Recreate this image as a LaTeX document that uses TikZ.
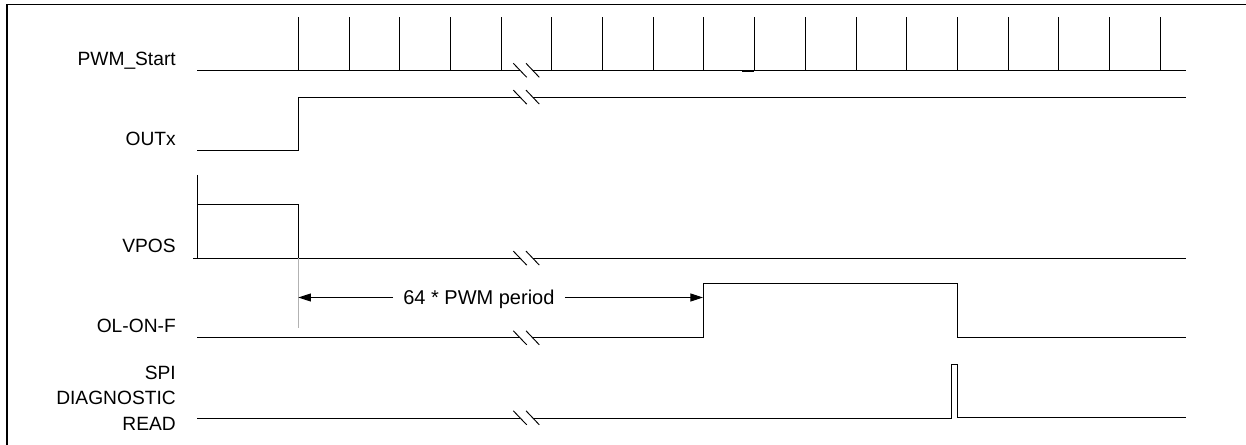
\documentclass[tikz,border=0pt]{standalone}
\usepackage{fontspec}
\setmainfont{Liberation Sans}
\usetikzlibrary{arrows.meta}
\begin{document}
\begin{tikzpicture}[x=0.75pt,y=-0.75pt,
  sig/.style={line width=0.75pt, black},
  lbl/.style={anchor=base east, inner sep=0pt, font=\fontsize{14.4}{19}\selectfont, align=right},
  brkpair/.pic={
    \draw[line width=0.7pt] (-13.2,-7.2) -- (0.2,6.8);
    \draw[line width=0.7pt] (-0.5,-7.2) -- (12.8,6.8);
  },
  dimarrow/.style={line width=0.75pt, -{Triangle[length=9.5pt,width=6pt]}}
]
\useasboundingbox (0,0) rectangle (1246,445);

% frame
\draw[line width=1pt] (7,445) -- (7,4.3) -- (1246,4.3);

% labels
\node[lbl] (lpwm)  at (176,65.7)  {PWM\_Start};
\node[lbl] (lout)  at (176,145.7) {OUTx};
\node[lbl] (lvpos) at (176,252.7) {VPOS};
\node[lbl] (lol)   at (176,332.3) {OL-ON-F};
\node[lbl] (lspi)  at (176,430) {SPI\\DIAGNOSTIC\\READ};

% PWM_Start
\draw[sig] (197,70.7) -- (520,70.7);
\draw[sig] (533,70.7) -- (1186,70.7);
\foreach \k in {0,...,17} \draw[sig] (298.3+50.7*\k,70.7) -- ++(0,-54);
\draw[line width=1.3pt] (742,70.7) -- (754.4,70.7);
\draw[line width=1.2pt] (1059.2,70.7) -- (1160.4,70.7);
\pic at (526.5,70.5) {brkpair};

% OUTx
\draw[sig] (197,150.7) -- (298.3,150.7) -- (298.3,97.3) -- (520,97.3);
\draw[sig] (533,97.3) -- (1186,97.3);
\pic at (526.5,97.3) {brkpair};

% VPOS
\draw[sig] (197,175) -- (197,258.3);
\draw[sig] (197,205) -- (298.3,205) -- (298.3,258.3);
\draw[sig] (193,258.3) -- (520,258.3);
\draw[sig] (533,258.3) -- (1186,258.3);
\pic at (526.5,258.3) {brkpair};

% gray marker line
\draw[line width=0.75pt, black!30] (298.3,258.3) -- (298.3,328.3);

% OL-ON-F
\draw[sig] (197,338) -- (520,338);
\draw[sig] (533,338) -- (703,338) -- (703,284) -- (957,284) -- (957,338) -- (1186,338);
\pic at (526.5,338) {brkpair};

% SPI DIAGNOSTIC READ
\draw[sig] (197,418) -- (520,418);
\draw[sig] (533,418) -- (951,418) -- (951,364) -- (957,364) -- (957,417) -- (1186,417);
\pic at (526.5,418) {brkpair};

% dimension arrow
\coordinate (vfall) at (298.3,297.5);
\coordinate (olrise) at (703,297.5);
\node[anchor=base, inner xsep=7.5pt, inner ysep=0pt, font=\fontsize{15}{19}\selectfont] (per) at (478.9,305) {64 * PWM period};
\draw[dimarrow] (per.west |- vfall) -- (vfall);
\draw[dimarrow] (per.east |- olrise) -- (olrise);
\end{tikzpicture}
\end{document}
